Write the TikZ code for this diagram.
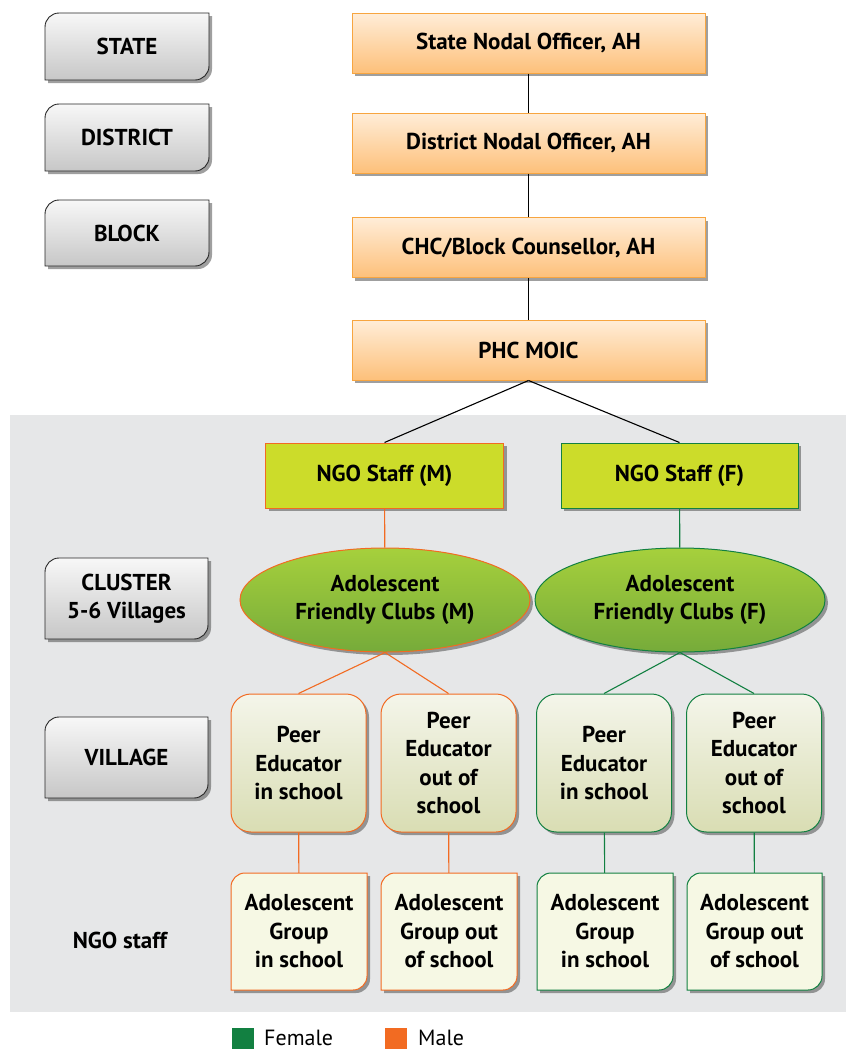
\documentclass[tikz,border=0pt]{standalone}
\usepackage{fontspec}
\setmainfont{PT Sans}
\usetikzlibrary{shapes.geometric,shadows}
\definecolor{bggray}{HTML}{E6E7E8}
\definecolor{malec}{HTML}{F26B22}
\definecolor{femc}{HTML}{128041}
\definecolor{ngofill}{HTML}{CCDC2A}
\definecolor{elltop}{HTML}{A6D03C}
\definecolor{ellbot}{HTML}{76AB3A}
\definecolor{peertop}{HTML}{F4F5EA}
\definecolor{peerbot}{HTML}{D9DDB3}
\definecolor{grpfill}{HTML}{F6F8E4}
\definecolor{toptop}{HTML}{FFEDD8}
\definecolor{topbot}{HTML}{FDC07A}
\definecolor{topborder}{HTML}{F7A540}
\newcommand\lvlshape[5]{%
  \path[#5] (#1,#2+14) .. controls (#1,#2+6.3) and (#1+6.3,#2) .. (#1+14,#2)
    -- (#3,#2) -- (#3,#4-14) .. controls (#3,#4-6.3) and (#3-6.3,#4) .. (#3-14,#4)
    -- (#1,#4) -- cycle;}
\begin{document}
\begin{tikzpicture}[x=1pt,y=-1pt,
  shad/.style={drop shadow={shadow xshift=3pt,shadow yshift=-3pt,opacity=0.5,fill=black!75}},
  bold/.style={font=\fontsize{23}{28.5}\selectfont\bfseries, align=center},
  topbox/.style={bold, shad, draw=topborder, line width=1pt, top color=toptop, bottom color=topbot,
     minimum width=353pt, minimum height=60pt, inner sep=0pt},
  lvlsty/.style={shad, draw=black!85, line width=0.9pt, top color=black!3, bottom color=black!22},
  lvltext/.style={bold, inner sep=0pt},
  ngobox/.style={bold, shad, fill=ngofill, line width=1pt, minimum height=65pt, inner sep=0pt},
  ellbox/.style={bold, shad, ellipse, top color=elltop, bottom color=ellbot, line width=1pt,
     minimum width=290pt, minimum height=104pt, inner sep=0pt},
  peerbox/.style={bold, shad, rounded corners=20pt, top color=peertop, bottom color=peerbot, line width=1pt,
     minimum width=135pt, minimum height=138pt, inner sep=0pt},
  grpsty/.style={shad, fill=grpfill, line width=1pt},
  grptext/.style={bold, minimum width=136pt, minimum height=117pt, inner sep=0pt},
  legtext/.style={anchor=base west, font=\fontsize{22}{26}\selectfont, inner sep=0pt},
  conn/.style={line width=1.1pt},
]
\useasboundingbox (0,0) rectangle (846,1050);
\fill[bggray] (10,415) rectangle (846,1012);

% level boxes
\lvlshape{45}{13}{209}{80}{lvlsty}
\node[lvltext] (lstate) at (127,46.5) {STATE};
\lvlshape{45}{104}{209}{171}{lvlsty}
\node[lvltext] (ldistrict) at (127,137.5) {DISTRICT};
\lvlshape{45}{200}{209}{266}{lvlsty}
\node[lvltext] (lblock) at (127,233) {BLOCK};
\lvlshape{45}{558}{208}{639}{lvlsty}
\node[lvltext] (lcluster) at (126.5,598.5) {CLUSTER\\5-6 Villages};
\lvlshape{45}{717}{208}{798}{lvlsty}
\node[lvltext] (lvillage) at (126.5,757.5) {VILLAGE};
\node[lvltext] (lngo) at (120,940) {NGO staff};

% top chain
\node[topbox] (state) at (528.5,43) {State Nodal Officer, AH};
\node[topbox] (district) at (528.5,143) {District Nodal Officer, AH};
\node[topbox] (chc) at (528.5,247.5) {CHC/Block Counsellor, AH};
\node[topbox] (phc) at (528.5,350) {PHC MOIC};
\draw[conn] (state) -- (district);
\draw[conn] (district) -- (chc);
\draw[conn] (chc) -- (phc);

% NGO staff
\node[ngobox, draw=malec, minimum width=238pt] (ngom) at (384.5,475.5) {NGO Staff (M)};
\node[ngobox, draw=femc, minimum width=237pt] (ngof) at (679.5,475.5) {NGO Staff (F)};
\draw[conn] (phc.south) -- (ngom.north);
\draw[conn] (phc.south) -- (ngof.north);

% clubs
\node[ellbox, draw=malec] (clubm) at (385,600) {Adolescent\\Friendly Clubs (M)};
\node[ellbox, draw=femc] (clubf) at (680,600) {Adolescent\\Friendly Clubs (F)};
\draw[conn, malec] (ngom) -- (clubm);
\draw[conn, femc] (ngof) -- (clubf);

% peer educators
\node[peerbox, draw=malec] (pmin) at (298.5,763) {Peer\\Educator\\in school};
\node[peerbox, draw=malec] (pmout) at (448.5,763) {Peer\\Educator\\out of\\school};
\node[peerbox, draw=femc] (pfin) at (604,763) {Peer\\Educator\\in school};
\node[peerbox, draw=femc] (pfout) at (754,763) {Peer\\Educator\\out of\\school};
\draw[conn, malec] (clubm.south) -- (pmin.north);
\draw[conn, malec] (clubm.south) -- (pmout.north);
\draw[conn, femc] (clubf.south) -- (pfin.north);
\draw[conn, femc] (clubf.south) -- (pfout.north);

% groups
\lvlshape{231}{873}{367}{990}{grpsty, draw=malec}
\node[grptext] (gmin) at (299,931.5) {Adolescent\\Group\\in school};
\lvlshape{381}{873}{517}{990}{grpsty, draw=malec}
\node[grptext] (gmout) at (449,931.5) {Adolescent\\Group out\\of school};
\lvlshape{537}{873}{673}{990}{grpsty, draw=femc}
\node[grptext] (gfin) at (605,931.5) {Adolescent\\Group\\in school};
\lvlshape{687}{873}{822}{990}{grpsty, draw=femc}
\node[grptext] (gfout) at (754.5,931.5) {Adolescent\\Group out\\of school};
\draw[conn, malec] (pmin) -- (gmin);
\draw[conn, malec] (pmout) -- (gmout);
\draw[conn, femc] (pfin) -- (gfin);
\draw[conn, femc] (pfout) -- (gfout);

% legend
\node[fill=femc, minimum width=22pt, minimum height=21pt, inner sep=0pt] (legf) at (242.5,1038.5) {};
\node[legtext] (legft) at (264,1045) {Female};
\node[fill=malec, minimum width=22pt, minimum height=21pt, inner sep=0pt] (legm) at (396,1038.5) {};
\node[legtext] (legmt) at (418,1045) {Male};
\end{tikzpicture}
\end{document}
